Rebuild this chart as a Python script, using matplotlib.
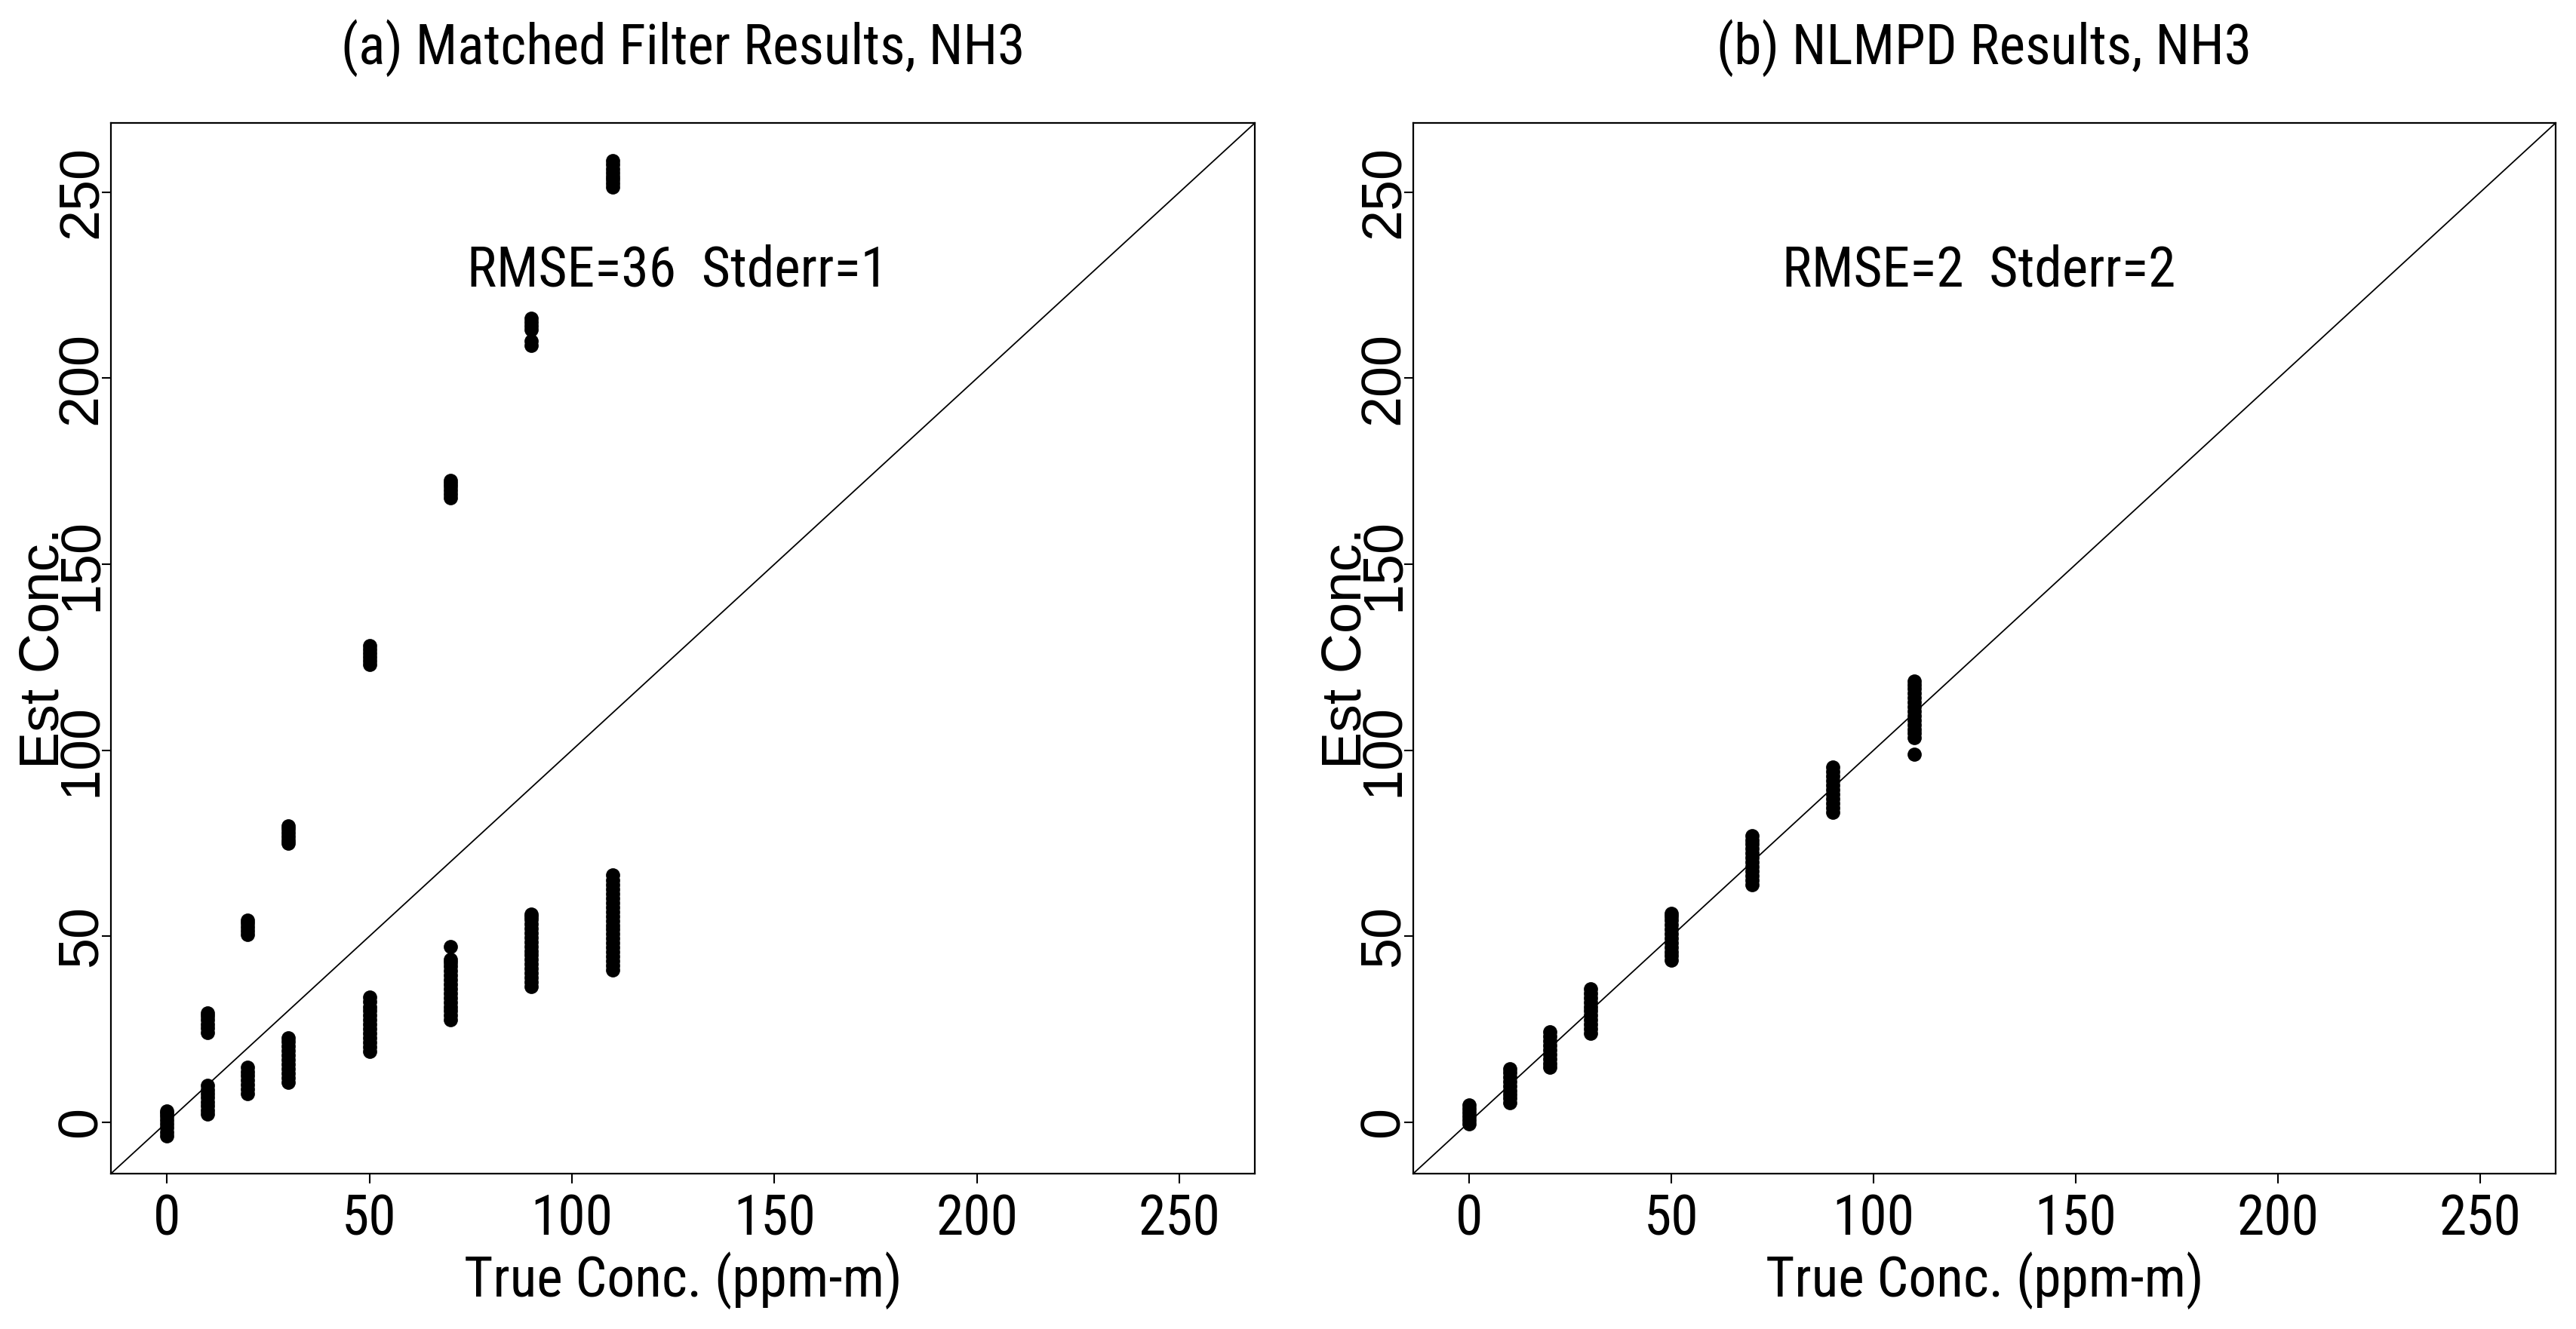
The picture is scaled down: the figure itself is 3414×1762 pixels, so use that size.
import numpy as np
from matplotlib import pyplot as plt
from matplotlib import font_manager

true_conc = [0, 10, 20, 30, 50, 70, 90, 110]

# matched filter estimates, two groups per true concentration
mf_low = [
    [-3.7, -2.6, -1.5, -0.4, 0.6, 1.6, 2.4, 3.1],
    [2.2, 3.3, 4.4, 5.5, 6.6, 7.7, 8.8, 9.9],
    [7.7, 8.9, 10.1, 11.3, 12.5, 13.6, 14.7],
    [10.8, 12.0, 13.2, 14.4, 15.6, 16.8, 18.0, 19.2, 20.4, 21.6, 22.7],
    [19.1, 20.3, 21.5, 22.7, 23.9, 25.1, 26.3, 27.5, 28.7, 29.9, 31.1, 32.4, 33.7],
    [27.5, 28.7, 29.9, 31.1, 32.3, 33.5, 34.7, 35.9, 37.1, 38.3, 39.5, 40.7, 41.9, 42.9, 43.8, 47.2],
    [36.5, 37.7, 38.9, 40.1, 41.3, 42.5, 43.7, 44.9, 46.1, 47.3, 48.5, 49.7, 50.9, 52.1, 53.3,
     54.5, 55.3, 56.0],
    [41.0, 42.2, 43.4, 44.6, 45.8, 47.0, 48.2, 49.4, 50.6, 51.8, 53.0, 54.2, 55.4, 56.6, 57.8,
     59.0, 60.2, 61.4, 62.6, 63.8, 65.0, 66.5],
]
mf_high = [
    [],
    [24.2, 25.3, 26.4, 27.5, 28.5, 29.4],
    [50.5, 51.5, 52.5, 53.5, 54.4],
    [74.9, 75.9, 76.9, 77.9, 78.8, 79.6],
    [123.1, 124.1, 125.1, 126.1, 127.1, 128.1],
    [167.9, 168.9, 169.9, 170.8, 171.7, 172.5],
    [208.7, 210.0, 213.0, 214.0, 215.0, 216.0],
    [251.3, 252.3, 253.3, 254.3, 255.3, 256.3, 257.4, 258.4],
]

nlmpd_est = [
    [-0.4, 0.6, 1.6, 2.6, 3.6, 4.6],
    [5.3, 6.4, 7.5, 8.6, 9.8, 11.0, 12.2, 13.3, 14.3],
    [14.7, 15.9, 17.1, 18.3, 19.5, 20.7, 21.9, 23.1, 24.3],
    [23.9, 25.1, 26.3, 27.5, 28.7, 29.9, 31.1, 32.3, 33.5, 34.7, 35.8],
    [43.5, 44.7, 45.9, 47.1, 48.3, 49.5, 50.7, 51.9, 53.1, 54.3, 55.3, 56.2],
    [63.9, 65.1, 66.3, 67.5, 68.7, 69.9, 71.1, 72.3, 73.5, 74.7, 75.9, 77.0],
    [83.4, 84.6, 85.8, 87.0, 88.2, 89.4, 90.6, 91.8, 93.0, 94.2, 95.4],
    [98.9, 103.3, 104.5, 105.7, 106.9, 108.1, 109.3, 110.5, 111.7, 112.9, 114.1, 115.3, 116.5,
     117.5, 118.5],
]

titles = ["(a) Matched Filter Results, NH3", "(b) NLMPD Results, NH3"]
stats = ["RMSE=36  Stderr=1", "RMSE=2  Stderr=2"]
ticks = [0, 50, 100, 150, 200, 250]
lims = (-13.8, 268.6)


def find_narrow():
    # look for an installed condensed sans face, the original text is narrow helvetica
    prefs = ['Liberation Sans Narrow', 'Roboto Condensed', 'Noto Sans', 'Open Sans', 'DejaVu Sans']
    found = []
    for f in font_manager.fontManager.ttflist:
        cond = f.stretch in ('condensed', 'semi-condensed', 'extra-condensed') \
            or 'Narrow' in f.name or 'Condensed' in f.name
        if cond and f.style == 'normal' and f.weight in (400, 'normal', 'regular', 'book'):
            found.append(f)
    for p in prefs:
        for f in found:
            if f.name.startswith(p):
                return f.fname
    if found:
        return found[0].fname
    return None


narrow_file = find_narrow()
if narrow_file:
    fp_h = font_manager.FontProperties(fname=narrow_file, size=53)
else:
    fp_h = font_manager.FontProperties(family=['Liberation Sans', 'DejaVu Sans'], size=48)
fp_v = font_manager.FontProperties(family=['Liberation Sans', 'DejaVu Sans'], size=53)


def flatten(xs, groups):
    px, py = [], []
    for x, g in zip(xs, groups):
        px += [x] * len(g)
        py += list(g)
    return np.array(px), np.array(py)


def draw_panel(ax, groups, title, stat):
    for g in groups:
        px, py = flatten(true_conc, g)
        ax.plot(px, py, 'o', color='black', markersize=13.5, markeredgewidth=0)
    ax.axline((0, 0), slope=1, color='black', lw=1.3)
    ax.set_xlim(lims)
    ax.set_ylim(lims)
    ax.set_xticks(ticks)
    ax.set_yticks(ticks)
    for s in ax.spines.values():
        s.set_linewidth(1.6)
    ax.tick_params(direction='out', length=9, width=1.5, pad=9)
    ax.set_xticklabels([str(t) for t in ticks], fontproperties=fp_h)
    ax.set_yticklabels([str(t) for t in ticks], fontproperties=fp_v,
                       rotation=90, rotation_mode='anchor', ha='center', va='baseline')
    ax.tick_params(axis='y', pad=5)
    ax.set_title(title, fontproperties=fp_h, y=1.056, pad=0)
    ax.set_xlabel("True Conc. (ppm-m)", fontproperties=fp_h)
    ax.xaxis.set_label_coords(0.5, -0.117)
    ax.xaxis.label.set_va('baseline')
    ax.set_ylabel("Est Conc.", fontproperties=fp_v)
    ax.yaxis.set_label_coords(-0.046, 0.5)
    ax.yaxis.label.set_va('baseline')
    ax.text(126, 224.8, stat, fontproperties=fp_h, ha='center', va='baseline')


fig = plt.figure(figsize=(34.14, 17.62), dpi=100)
ax1 = fig.add_axes([0.04306, 0.1169, 0.4441, 0.7906])
ax2 = fig.add_axes([0.5486, 0.1169, 0.4435, 0.7906])

draw_panel(ax1, [mf_low, mf_high], titles[0], stats[0])
draw_panel(ax2, [nlmpd_est], titles[1], stats[1])

fig.savefig('out.png', dpi=100)
